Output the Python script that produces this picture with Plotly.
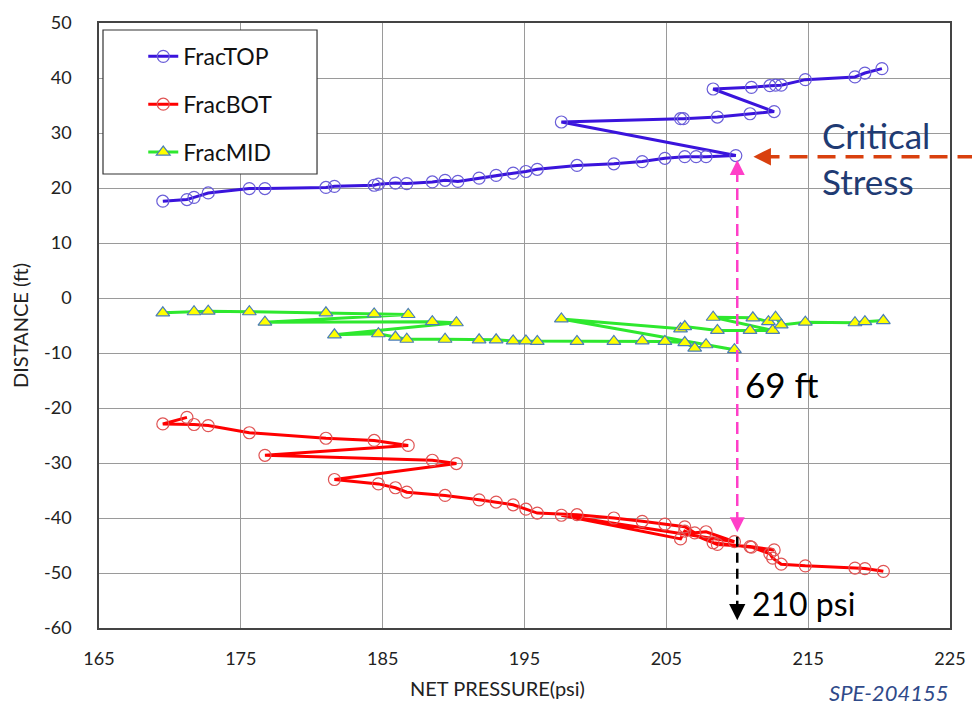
import plotly.graph_objects as go

# ---------------- data ----------------
top_x = [169.5, 171.2, 171.7, 172.7, 175.6, 176.7, 181.0, 181.6, 184.4, 184.7, 185.9, 186.7,
         188.5, 189.4, 190.3, 191.8, 193.0, 194.2, 195.1, 195.9, 198.7, 201.3, 203.3, 204.9,
         206.3, 207.1, 207.8, 209.9,
         197.6, 206.0, 206.2, 208.6, 210.9, 212.6,
         208.3, 211.0, 212.3, 212.7, 213.1, 214.8, 218.3, 219.0, 220.2]
top_y = [17.6, 17.9, 18.3, 19.1, 19.9, 19.9, 20.1, 20.3, 20.5, 20.7, 20.9, 20.8,
         21.1, 21.4, 21.2, 21.8, 22.3, 22.7, 23.0, 23.4, 24.1, 24.4, 24.8, 25.4,
         25.7, 25.7, 25.7, 25.9,
         32.0, 32.6, 32.6, 32.9, 33.5, 33.9,
         38.0, 38.3, 38.6, 38.7, 38.7, 39.7, 40.2, 40.9, 41.7]

bot_x = [171.2, 169.5, 171.7, 172.7, 175.6, 181.0, 184.4, 186.8, 176.7, 188.5, 190.2,
         181.6, 184.7, 185.9, 186.7, 189.4, 191.8, 193.0, 194.2, 195.1, 195.9, 198.7,
         201.3, 203.3, 204.9, 206.3, 207.0, 207.8, 209.8,
         197.6, 206.0, 206.3, 208.6, 210.9, 212.6,
         208.3, 211.0, 212.3, 212.5, 213.1, 214.8, 218.3, 219.0, 220.3]
bot_y = [-21.7, -22.9, -23.0, -23.2, -24.5, -25.5, -25.9, -26.8, -28.6, -29.5, -30.1,
         -33.0, -33.8, -34.5, -35.3, -35.9, -36.7, -37.1, -37.6, -38.4, -39.1, -39.4,
         -40.0, -40.6, -41.1, -41.6, -42.7, -42.5, -44.3,
         -39.5, -43.8, -42.4, -44.8, -45.2, -45.8,
         -44.5, -45.3, -46.5, -47.3, -48.4, -48.7, -49.1, -49.2, -49.7]

mid_x = [169.5, 171.7, 172.7, 175.6, 181.0, 184.4, 186.8, 176.7, 188.5, 190.2,
         181.6, 184.7, 185.9, 186.7, 189.4, 191.8, 193.0, 194.2, 195.1, 195.9, 198.7,
         201.3, 203.3, 204.9, 206.3, 207.0, 207.8, 209.8,
         197.6, 206.0, 206.3, 208.6, 210.9, 212.5,
         208.3, 211.1, 212.2, 212.7, 213.1, 214.8, 218.3, 219.0, 220.3]
mid_y = [-2.7, -2.5, -2.4, -2.5, -2.7, -2.9, -3.0, -4.4, -4.3, -4.5,
         -6.7, -6.5, -7.1, -7.5, -7.5, -7.6, -7.6, -7.8, -7.8, -7.9, -7.9,
         -7.9, -7.8, -7.9, -8.1, -9.1, -8.5, -9.4,
         -3.8, -5.6, -5.2, -5.9, -5.9, -5.9,
         -3.5, -3.6, -4.3, -3.5, -4.9, -4.4, -4.5, -4.3, -4.1]

x_ticks = [165, 175, 185, 195, 205, 215, 225]
y_ticks = [50, 40, 30, 20, 10, 0, -10, -20, -30, -40, -50, -60]

crit_x, crit_y = 210, 25.9      # critical stress point
pink_top, pink_bot = 25.1, -42.6
FONT = "Lato"

fig = go.Figure()
fig.add_trace(go.Scatter(
    x=top_x, y=top_y, name="FracTOP", mode="lines+markers", legendgroup="a",
    line=dict(color="#3a14dc", width=3),
    marker=dict(symbol="circle-open", size=12, color="#6a5ed8", line=dict(width=1.2))))
fig.add_trace(go.Scatter(
    x=bot_x, y=bot_y, name="FracBOT", mode="lines+markers", legendgroup="b",
    line=dict(color="#ff0000", width=3),
    marker=dict(symbol="circle-open", size=12, color="#e05454", line=dict(width=1.2))))
fig.add_trace(go.Scatter(
    x=mid_x, y=mid_y, name="FracMID", mode="lines+markers", legendgroup="c",
    line=dict(color="#2ee82e", width=3),
    marker=dict(symbol="triangle-up", size=12, color="#ffff00",
                line=dict(color="#4a7eb8", width=1.2))))

shapes = [
    # legend box
    dict(type="rect", xref="paper", yref="paper", x0=0.0047, x1=0.2562, y0=0.7504, y1=0.9884,
         line=dict(color="#333333", width=1.2), fillcolor="white", layer="above"),
    # orange dashed arrow line
    dict(type="line", xref="paper", yref="y", x0=1.03, x1=0.78, y0=crit_y - 0.2, y1=crit_y - 0.2,
         line=dict(color="#d9400e", width=3.5, dash="18px,10px")),
    # pink dashed vertical line
    dict(type="line", xref="x", yref="y", x0=crit_x, x1=crit_x, y0=pink_bot + 1.5, y1=pink_top - 1.5,
         line=dict(color="#ff3fc8", width=2.5, dash="12px,6px")),
    # black dashed vertical line
    dict(type="line", xref="x", yref="y", x0=crit_x, x1=crit_x, y0=-43.4, y1=-57.5,
         line=dict(color="black", width=2.5, dash="10px,6px")),
]

annotations = [
    dict(x=crit_x, y=pink_top, xref="x", yref="y", ax=0, ay=12, text="", showarrow=True,
         arrowhead=2, arrowsize=1.2, arrowwidth=2.5, arrowcolor="#ff3fc8"),
    dict(x=crit_x, y=pink_bot, xref="x", yref="y", ax=0, ay=-12, text="", showarrow=True,
         arrowhead=2, arrowsize=1.2, arrowwidth=2.5, arrowcolor="#ff3fc8"),
    dict(x=crit_x, y=-58.6, xref="x", yref="y", ax=0, ay=-10, text="", showarrow=True,
         arrowhead=2, arrowsize=1.3, arrowwidth=2.5, arrowcolor="black"),
    dict(x=0.769, y=crit_y - 0.2, xref="paper", yref="y", ax=18, ay=0, text="", showarrow=True,
         arrowhead=2, arrowsize=1.0, arrowwidth=3.5, arrowcolor="#d9400e"),
    dict(x=215.8, y=25.5, xref="x", yref="y", text="Critical<br>Stress", showarrow=False,
         xanchor="left", yanchor="middle", align="left",
         font=dict(family=FONT, size=35, color="#1f3b73")),
    dict(x=210.4, y=-15.7, xref="x", yref="y", text="69 ft", showarrow=False,
         xanchor="left", yanchor="middle", font=dict(family=FONT, size=35, color="black")),
    dict(x=210.9, y=-55.6, xref="x", yref="y", text="210 psi", showarrow=False,
         xanchor="left", yanchor="middle", font=dict(family=FONT, size=32, color="black")),
    dict(x=0.928, y=-0.106, xref="paper", yref="paper", text="<i>SPE-204155</i>", showarrow=False,
         xanchor="center", yanchor="middle", font=dict(family=FONT, size=22, color="#2f4a8a")),
    dict(x=0.468, y=-0.099, xref="paper", yref="paper", text="NET PRESSURE(psi)", showarrow=False,
         xanchor="center", yanchor="middle", font=dict(family=FONT, size=20, color="#222222")),
]

fig.update_layout(
    width=972, height=711,
    margin=dict(l=99, r=22, t=23, b=83, autoexpand=False),
    paper_bgcolor="white", plot_bgcolor="white",
    font=dict(family=FONT, size=17, color="#222222"),
    showlegend=True,
    legend=dict(x=0.052, y=0.9804, xanchor="left", yanchor="top", bgcolor="rgba(0,0,0,0)",
                borderwidth=0, font=dict(family=FONT, size=23, color="#111111"),
                traceorder="grouped", tracegroupgap=15, itemwidth=30),
    shapes=shapes, annotations=annotations,
)
fig.update_xaxes(range=[165, 225], tickvals=x_ticks, ticktext=[str(v) for v in x_ticks],
                 showgrid=True, gridcolor="#9a9a9a", gridwidth=1,
                 showline=True, linecolor="#444444", linewidth=1.5, mirror=True,
                 zeroline=False, ticks="", ticklabelstandoff=14, automargin=False,
                 ticklabeloverflow="allow",
                 tickfont=dict(family=FONT, size=18, color="#222222"))
fig.update_yaxes(range=[-60, 50], tickvals=y_ticks, ticktext=[str(v) for v in y_ticks],
                 showgrid=True, gridcolor="#9a9a9a", gridwidth=1,
                 showline=True, linecolor="#444444", linewidth=1.5, mirror=True,
                 zeroline=False, ticks="", ticklabelstandoff=22, automargin=False,
                 title=dict(text="DISTANCE (ft)", standoff=10,
                            font=dict(family=FONT, size=20, color="#222222")),
                 tickfont=dict(family=FONT, size=18, color="#222222"))

# remove the default 8px page margin so the 972x711 figure fills the window exactly
fig.write_html("out.html", config={"displayModeBar": False},
               post_script="document.body.style.margin='0';document.body.style.overflow='hidden';")
